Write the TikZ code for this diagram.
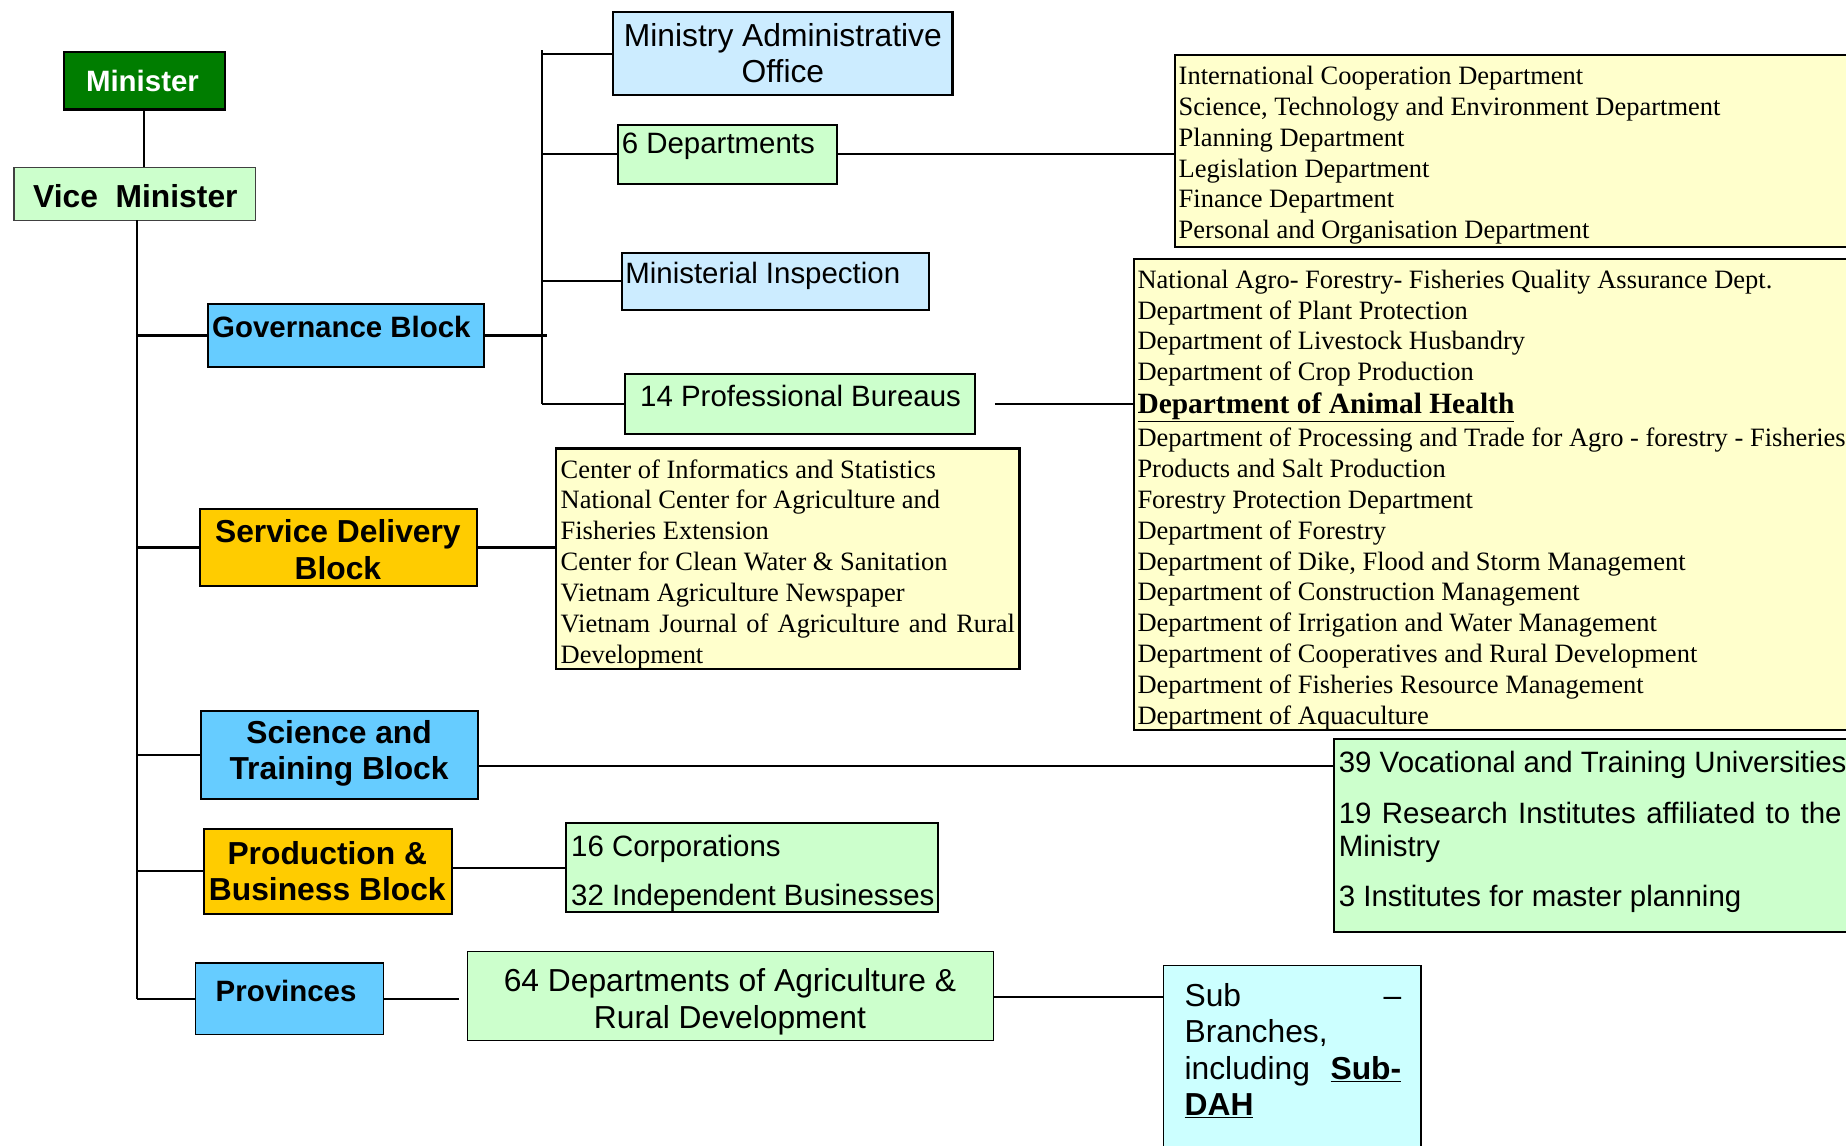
\documentclass[tikz,border=0pt]{standalone}
\usepackage{fontspec}
\setmainfont{Liberation Serif}
\setsansfont{Liberation Sans}
\definecolor{dkgreen}{RGB}{0,125,0}
\definecolor{lgreen}{RGB}{204,255,204}
\definecolor{lblue}{RGB}{204,236,255}
\definecolor{bblue}{RGB}{102,204,255}
\definecolor{gold}{RGB}{255,204,0}
\definecolor{lyellow}{RGB}{255,255,204}
\definecolor{lcyan}{RGB}{204,255,255}
\begin{document}
\begin{tikzpicture}[x=1pt,y=-1pt,
  box/.style={draw=black, line width=1.8pt, inner sep=0pt, outer sep=0pt, anchor=north west},
  thinbox/.style={box, line width=1.1pt},
  conn/.style={line width=1.8pt},
  tB/.style={font=\sffamily\bfseries\fontsize{25}{29}\selectfont, inner sep=0pt, align=center},
  tBL/.style={font=\sffamily\bfseries\fontsize{27}{31}\selectfont, inner sep=0pt, align=center},
  tR/.style={font=\sffamily\fontsize{25}{29}\selectfont, inner sep=0pt},
  tRL/.style={font=\sffamily\fontsize{27}{31}\selectfont, inner sep=0pt},
  tS/.style={font=\rmfamily\fontsize{22.5}{26.2}\selectfont, inner sep=0pt, align=left, anchor=north west},
]
\useasboundingbox (0,0) rectangle (1568,973);
\clip (0,0) rectangle (1568,973);

% ---------- boxes ----------
\node[box, fill=dkgreen, minimum width=137, minimum height=49] (min) at (54,44) {};
\node[thinbox, draw=black!75, fill=lgreen, minimum width=205, minimum height=45] (vice) at (12,142) {};
\node[box, fill=bblue, minimum width=234, minimum height=54] (gov) at (177,258) {};
\node[box, fill=lblue, minimum width=288, minimum height=71] (mao) at (521,10) {};
\node[box, fill=lgreen, minimum width=186, minimum height=50] (dep6) at (525,106) {};
\node[box, fill=lblue, minimum width=261, minimum height=48] (insp) at (528,215) {};
\node[box, fill=lgreen, minimum width=297, minimum height=51] (prof) at (531,318) {};
\node[box, fill=lyellow, minimum width=640, minimum height=163] (list1) at (998,47) {};
\node[box, fill=lyellow, minimum width=660, minimum height=400] (list2) at (963,220) {};
\node[box, fill=gold, minimum width=235, minimum height=66] (svc) at (170,432) {};
\node[box, fill=lyellow, minimum width=394, minimum height=187] (list3) at (472,381) {};
\node[box, fill=bblue, minimum width=235, minimum height=75] (sci) at (171,604) {};
\node[box, fill=lgreen, minimum width=500, minimum height=164] (voc) at (1133,628) {};
\node[box, fill=gold, minimum width=211, minimum height=72] (prod) at (173,704) {};
\node[box, fill=lgreen, minimum width=316, minimum height=76] (corp) at (481,699) {};
\node[thinbox, fill=bblue, minimum width=160, minimum height=61] (prov) at (166,818) {};
\node[thinbox, fill=lgreen, minimum width=447, minimum height=76] (dep64) at (397,808) {};
\node[thinbox, fill=lcyan, minimum width=219, minimum height=200] (sub) at (988,820) {};

% ---------- texts ----------
\node[tB, text=white] (min-t) at (121,69) {Minister};
\node[tBL] (vice-t) at (115,167) {Vice\ \ Minister};
\node[tB] (gov-t) at (290,278) {Governance Block};
\node[tRL, align=center] (mao-t) at (665,45) {Ministry Administrative\\Office};
\node[tR, anchor=west] (dep6-t) at (528,124) {6 Departments};
\node[tR, anchor=west] (insp-t) at (531,234) {Ministerial Inspection};
\node[tR] (prof-t) at (680,336) {14 Professional Bureaus};
\node[tS] (list1-t) at (1001,56) {International Cooperation Department\\
Science, Technology and Environment Department\\
Planning Department\\
Legislation Department\\
Finance Department\\
Personal and Organisation Department};
\node[tS] (list2-t) at (966,229) {National Agro- Forestry- Fisheries Quality Assurance Dept.\\
Department of Plant Protection\\
Department of Livestock Husbandry\\
Department of Crop Production\\[1.8pt]
{\fontsize{25}{28}\selectfont\bfseries\underline{Department of Animal Health}}\\[1.8pt]
Department of Processing and Trade for Agro - forestry - Fisheries\\
Products and Salt Production\\
Forestry Protection Department\\
Department of Forestry\\
Department of Dike, Flood and Storm Management\\
Department of Construction Management\\
Department of Irrigation and Water Management\\
Department of Cooperatives and Rural Development\\
Department of Fisheries Resource Management\\
Department of Aquaculture};
\node[tBL] (svc-t) at (287,467) {Service Delivery\\Block};
\node[tS] (list3-t) at (476,390) {Center of Informatics and Statistics\\
National Center for Agriculture and\\
Fisheries Extension\\
Center for Clean Water \& Sanitation\\
Vietnam Agriculture Newspaper\\
\makebox[386pt][s]{Vietnam Journal of Agriculture and Rural}\\
Development};
\node[tBL] (sci-t) at (288,640) {Science and\\Training Block};
\node[tR, align=left, anchor=north west, font=\sffamily\fontsize{25}{28}\selectfont] (voc-t) at (1137,638) {39 Vocational and Training Universities\\[15pt]
\makebox[427pt][s]{19 Research Institutes affiliated to the}\\
Ministry\\[15pt]
3 Institutes for master planning};
\node[tBL] (prod-t) at (278,740) {Production \&\\Business Block};
\node[tR, align=left, anchor=north west, font=\sffamily\fontsize{25}{42}\selectfont] (corp-t) at (485,709) {16 Corporations\\32 Independent Businesses};
\node[tB] (prov-t) at (243,842) {Provinces};
\begin{scope}
\clip (dep64.north west) rectangle ([yshift=4pt]dep64.south east);
\node[tRL, align=center, font=\sffamily\fontsize{27}{32}\selectfont] (dep64-t) at (620,851) {64 Departments of Agriculture \&\\Rural Development};
\end{scope}
\node[tRL, align=left, anchor=north west] (sub-t) at (1006,835) {\makebox[184pt][s]{Sub \hfill –}\\
Branches,\\
\makebox[184pt][s]{including {\bfseries\underline{Sub-}}}\\
{\bfseries\underline{DAH}}};

% ---------- connectors ----------
\coordinate (trk) at (116,0);
\coordinate (gbar) at (460,0);
\coordinate (sciy) at (0,651);
\draw[conn] (min.south) -- (min.south |- vice.north);
\draw[conn] (vice.south -| trk) -- (prov.west -| trk);
\draw[conn] (gov.west -| trk) -- (gov.west);
\draw[conn] (svc.west -| trk) -- (svc.west);
\draw[conn] (sci.west -| trk) -- (sci.west);
\draw[conn] (prod.west -| trk) -- (prod.west);
\draw[conn] (prov.west -| trk) -- (prov.west);
\draw[conn] (gov.east) -- ([xshift=5pt]gov.east -| gbar);
\draw[conn] ([yshift=3pt]mao.west -| gbar) -- (prof.west -| gbar);
\draw[conn] (mao.west -| gbar) -- (mao.west);
\draw[conn] (dep6.west -| gbar) -- (dep6.west);
\draw[conn] (insp.west -| gbar) -- (insp.west);
\draw[conn] (prof.west -| gbar) -- (prof.west);
\draw[conn] (dep6.east) -- (dep6.east -| list1.west);
\draw[conn] ([xshift=17pt]prof.east) -- (prof.east -| list2.west);
\draw[conn] (svc.east) -- (svc.east -| list3.west);
\draw[conn] (sci.east |- sciy) -- (voc.west |- sciy);
\draw[conn] (corp.west -| prod.east) -- (corp.west);
\draw[conn] (prov.east) -- ([xshift=-7pt]prov.east -| dep64.west);
\draw[conn] ([yshift=-1pt]dep64.east) -- ([yshift=-1pt]dep64.east -| sub.west);
\end{tikzpicture}
\end{document}
